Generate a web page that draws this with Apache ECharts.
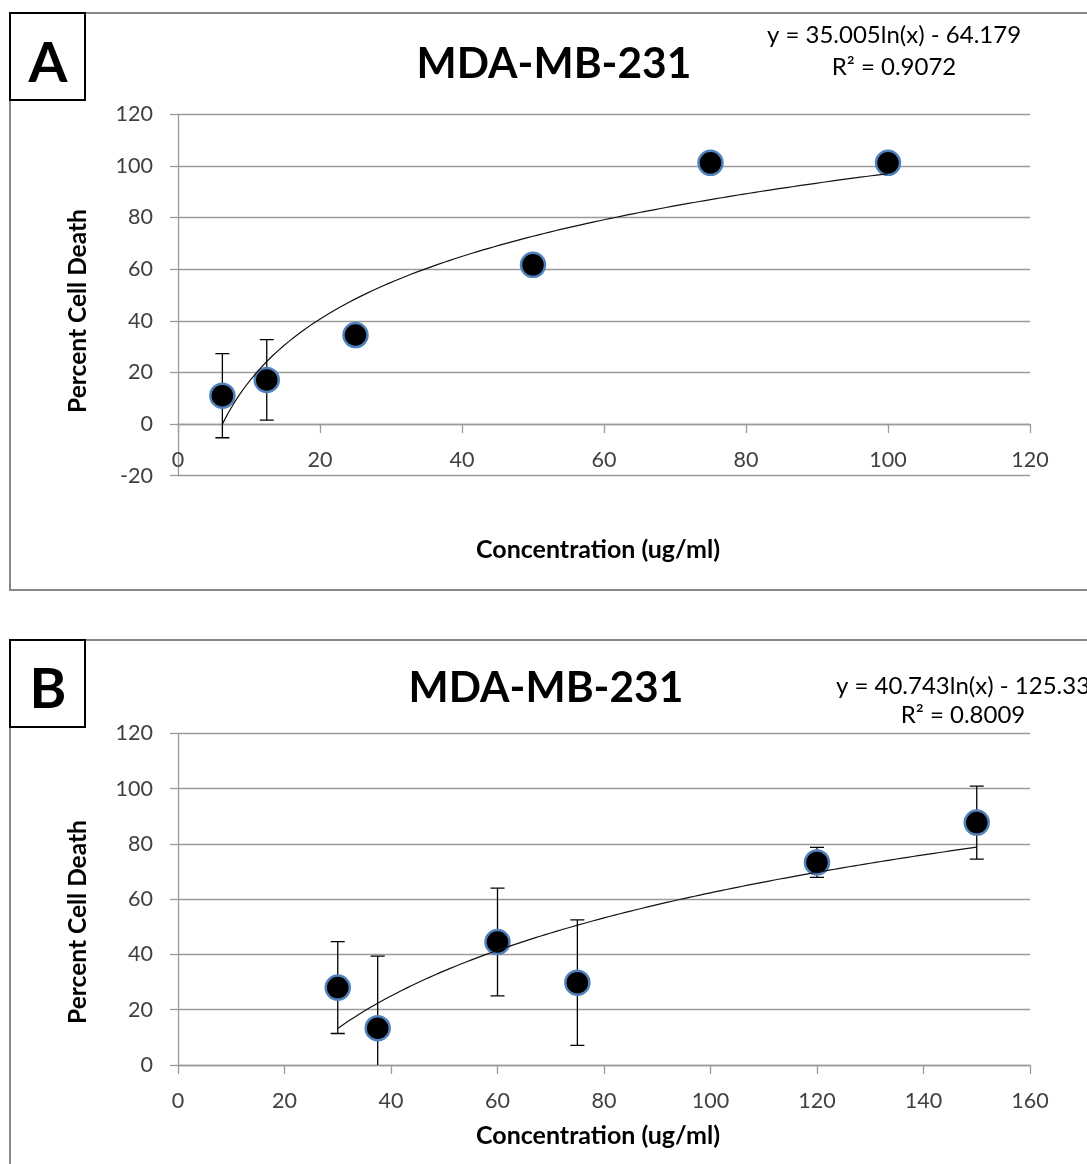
<!DOCTYPE html>
<html>
<head>
<meta charset="utf-8">
<script src="https://cdn.jsdelivr.net/npm/echarts@6/dist/echarts.min.js"></script>
<style>
  html, body { margin: 0; padding: 0; background: #fff; }
  #chart { width: 1087px; height: 1164px; }
</style>
</head>
<body>
<div id="chart"></div>
<script>
// Panel A: dose response, concentrations up to 100 ug/ml
const concA = [6.25, 12.5, 25, 50, 75, 100];
const deathA = [11.0, 17.1, 34.5, 61.7, 101.2, 101.2];
const errA = [16.3, 15.6, 0, 0, 0, 0];
const fitA = [35.005, -64.179];          // y = a*ln(x) + b
const eqA = ['y = 35.005ln(x) - 64.179', 'R² = 0.9072'];

// Panel B: dose response, concentrations up to 150 ug/ml
const concB = [30, 37.5, 60, 75, 120, 150];
const deathB = [28.0, 13.3, 44.5, 29.8, 73.3, 87.7];
const errB = [16.6, 26.1, 19.5, 22.7, 5.4, 13.2];
const fitB = [40.743, -125.33];
const eqB = ['y = 40.743ln(x) - 125.33', 'R² = 0.8009'];

const titleText = 'MDA-MB-231';
const xTitle = 'Concentration (ug/ml)';
const yTitle = 'Percent Cell Death';

const FONT = 'Lato, "Open Sans", sans-serif';
const GRID_GRAY = '#9b9b9b';
const LABEL_GRAY = '#404040';

// logarithmic trendline sampled across the data range
function trend(coef, xs) {
  const lo = Math.min(...xs), hi = Math.max(...xs);
  const pts = [];
  const n = 120;
  for (let i = 0; i <= n; i++) {
    const x = lo + (hi - lo) * i / n;
    pts.push([x, coef[0] * Math.log(x) + coef[1]]);
  }
  return pts;
}

function errData(xs, ys, es) {
  const out = [];
  xs.forEach((x, i) => { if (es[i] > 0) out.push([x, ys[i] - es[i], ys[i] + es[i]]); });
  return out;
}

function renderErr(params, api) {
  const x = api.value(0);
  const lo = api.coord([x, api.value(1)]);
  const hi = api.coord([x, api.value(2)]);
  const cap = 7;
  const style = { stroke: '#000', lineWidth: 1.3 };
  return {
    type: 'group',
    children: [
      { type: 'line', shape: { x1: hi[0], y1: hi[1], x2: lo[0], y2: lo[1] }, style },
      { type: 'line', shape: { x1: hi[0] - cap, y1: hi[1], x2: hi[0] + cap, y2: hi[1] }, style },
      { type: 'line', shape: { x1: lo[0] - cap, y1: lo[1], x2: lo[0] + cap, y2: lo[1] }, style }
    ]
  };
}

function xAxisCfg(idx, max, labelMargin) {
  return {
    type: 'value', gridIndex: idx, min: 0, max: max, interval: 20,
    axisLine: { show: true, onZero: true, lineStyle: { color: GRID_GRAY, width: 1.3 } },
    axisTick: { show: true, length: 9, lineStyle: { color: GRID_GRAY, width: 1.3 } },
    axisLabel: { margin: labelMargin, fontFamily: FONT, fontSize: 21.5, color: LABEL_GRAY },
    splitLine: { show: false }
  };
}
function yAxisCfg(idx, min) {
  return {
    type: 'value', gridIndex: idx, min: min, max: 120, interval: 20,
    axisLine: { show: true, onZero: false, lineStyle: { color: GRID_GRAY, width: 1.3 } },
    axisTick: { show: true, length: 8, lineStyle: { color: GRID_GRAY, width: 1.3 } },
    axisLabel: { margin: 25, fontFamily: FONT, fontSize: 21.5, color: LABEL_GRAY },
    splitLine: { show: true, lineStyle: { color: GRID_GRAY, width: 1.3 } }
  };
}

function panelSeries(idx, xs, ys, es, coef) {
  return [
    {
      type: 'custom', xAxisIndex: idx, yAxisIndex: idx, clip: true, z: 2,
      renderItem: renderErr, data: errData(xs, ys, es), silent: true
    },
    {
      type: 'scatter', xAxisIndex: idx, yAxisIndex: idx, z: 3,
      symbol: 'circle', symbolSize: 24,
      itemStyle: { color: '#000', borderColor: '#4f81bd', borderWidth: 2.5, opacity: 1 },
      data: xs.map((x, i) => [x, ys[i]])
    },
    {
      type: 'line', xAxisIndex: idx, yAxisIndex: idx, z: 4,
      showSymbol: false, smooth: false, clip: true,
      lineStyle: { color: '#111', width: 1.2 },
      data: trend(coef, xs)
    }
  ];
}

function textEl(x, y, str, size, weight, extra) {
  return Object.assign({
    type: 'text', x: x, y: y, z: 20,
    style: {
      text: str, fontFamily: FONT, fontSize: size, fontWeight: weight,
      fill: '#000', align: 'center', verticalAlign: 'middle'
    }
  }, extra || {});
}

function panelGraphics(top, bottom, letter, letterY, titleX, titleY, eq, eqX, eqY1, eqY2, yTitleY, xTitleY) {
  return [
    { type: 'rect', z: 1, shape: { x: 10, y: top, width: 1100, height: bottom - top },
      style: { fill: null, stroke: '#878787', lineWidth: 2 } },
    { type: 'rect', z: 15, shape: { x: 10, y: top, width: 75, height: 87 },
      style: { fill: '#fff', stroke: '#000', lineWidth: 2 } },
    textEl(48, letterY, letter, 56, 'bold'),
    textEl(titleX, titleY, titleText, 42.5, 'bold'),
    textEl(eqX, eqY1, eq[0], 24, 'normal'),
    textEl(eqX, eqY2, eq[1], 24, 'normal'),
    textEl(78, yTitleY, yTitle, 24.5, 'bold', { rotation: Math.PI / 2 }),
    textEl(598, xTitleY, xTitle, 25, 'bold')
  ];
}

const chart = echarts.init(document.getElementById('chart'), null, { renderer: 'canvas' });
chart.setOption({
  animation: false,
  backgroundColor: '#fff',
  grid: [
    { left: 178, top: 114.3, width: 852, height: 361.4 },
    { left: 178, top: 733.3, width: 852, height: 331.7 }
  ],
  xAxis: [xAxisCfg(0, 120, -27), xAxisCfg(1, 160, 25)],
  yAxis: [yAxisCfg(0, -20), yAxisCfg(1, 0)],
  series: [
    ...panelSeries(0, concA, deathA, errA, fitA),
    ...panelSeries(1, concB, deathB, errB, fitB)
  ],
  graphic: [
    ...panelGraphics(13, 590, 'A', 64, 554, 64, eqA, 894, 35, 67, 311, 550),
    ...panelGraphics(640, 1240, 'B', 690, 546, 688, eqB, 963, 686, 715, 922, 1136)
  ]
});
</script>
</body>
</html>
